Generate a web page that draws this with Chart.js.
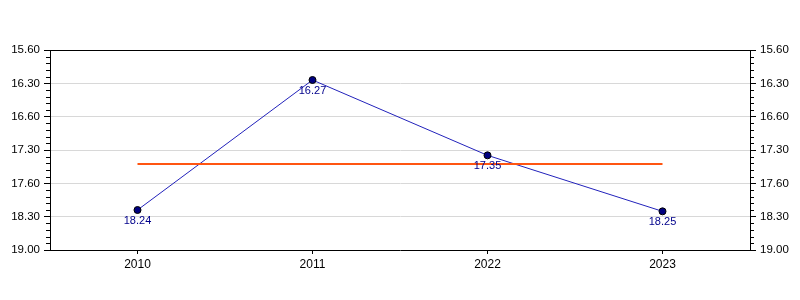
<!DOCTYPE html>
<html>
<head>
<meta charset="utf-8">
<script src="https://cdn.jsdelivr.net/npm/chart.js@4"></script>
<style>
  html, body { margin: 0; padding: 0; background: #fff; }
  #wrap { width: 800px; height: 300px; }
</style>
</head>
<body>
<div id="wrap"><canvas id="chart" width="800" height="300"></canvas></div>
<script>
// categories and values (values in decimal minutes, labels as printed)
const years = ['2010', '2011', '2022', '2023'];
const times = [18.40, 16.45, 17.58, 18.42];
const timeLabels = ['18.24', '16.27', '17.35', '18.25'];
const average = [17.71, 17.71, 17.71, 17.71];
const tickLabels = ['15.60', '16.30', '16.60', '17.30', '17.60', '18.30', '19.00'];

const FAMILY = '"Liberation Sans", Arial, sans-serif';

// minor ticks, top frame line and point labels
const extras = {
    id: 'extras',
    afterDraw(chart) {
        const ctx = chart.ctx;
        const area = chart.chartArea;
        ctx.save();
        ctx.strokeStyle = '#000';
        ctx.lineWidth = 1;
        ctx.beginPath();
        ctx.moveTo(area.left, area.top + 0.5);
        ctx.lineTo(area.right, area.top + 0.5);
        ctx.stroke();

        ['y', 'y2'].forEach(id => {
            const s = chart.scales[id];
            for (let i = 0; i <= 30; i++) {
                if (i % 5 === 0) continue;
                const y = Math.round(s.getPixelForValue(16 + i * 0.1)) + 0.5;
                ctx.beginPath();
                if (id === 'y') {
                    ctx.moveTo(area.left - 4, y);
                    ctx.lineTo(area.left, y);
                } else {
                    ctx.moveTo(area.right, y);
                    ctx.lineTo(area.right + 4, y);
                }
                ctx.stroke();
            }
        });

        const meta = chart.getDatasetMeta(1);
        ctx.fillStyle = '#00008b';
        ctx.font = '11px ' + FAMILY;
        ctx.textAlign = 'center';
        ctx.textBaseline = 'middle';
        meta.data.forEach((pt, i) => {
            ctx.fillText(timeLabels[i], pt.x, pt.y + 11);
        });
        ctx.restore();
    }
};

const yAxis = (position, onArea) => ({
    position: position,
    min: 16,
    max: 19,
    reverse: true,
    afterFit(scale) { scale.width = 50; },
    border: { color: '#000', width: 1 },
    grid: {
        drawOnChartArea: onArea,
        color: c => (c.index === 0 || c.index === 6) ? 'rgba(0,0,0,0)' : '#d8d8d8',
        tickColor: '#000',
        tickLength: 6
    },
    ticks: {
        stepSize: 0.5,
        color: '#000',
        font: { family: FAMILY, size: 11.5 },
        padding: 4,
        callback: v => tickLabels[Math.round((v - 16) * 2)]
    }
});

new Chart(document.getElementById('chart'), {
    type: 'line',
    data: {
        labels: years,
        datasets: [
            {
                data: average,
                borderColor: '#ff5511',
                borderWidth: 2,
                pointRadius: 0,
                fill: false
            },
            {
                data: times,
                borderColor: '#2222bb',
                borderWidth: 1,
                pointRadius: 3.5,
                pointBackgroundColor: '#000080',
                pointBorderColor: '#000',
                pointBorderWidth: 1,
                fill: false,
                tension: 0
            }
        ]
    },
    options: {
        responsive: false,
        animation: false,
        layout: { padding: { top: 50, bottom: 0, left: 0, right: 0 } },
        plugins: { legend: { display: false }, tooltip: { enabled: false } },
        scales: {
            x: {
                offset: true,
                afterFit(scale) { scale.height = 50; },
                border: { color: '#000', width: 1 },
                grid: {
                    drawOnChartArea: false,
                    offset: false,
                    tickColor: '#000',
                    tickLength: 4
                },
                ticks: { color: '#000', font: { family: FAMILY, size: 12 }, padding: 3 }
            },
            y: yAxis('left', true),
            y2: yAxis('right', false)
        }
    },
    plugins: [extras]
});
</script>
</body>
</html>
